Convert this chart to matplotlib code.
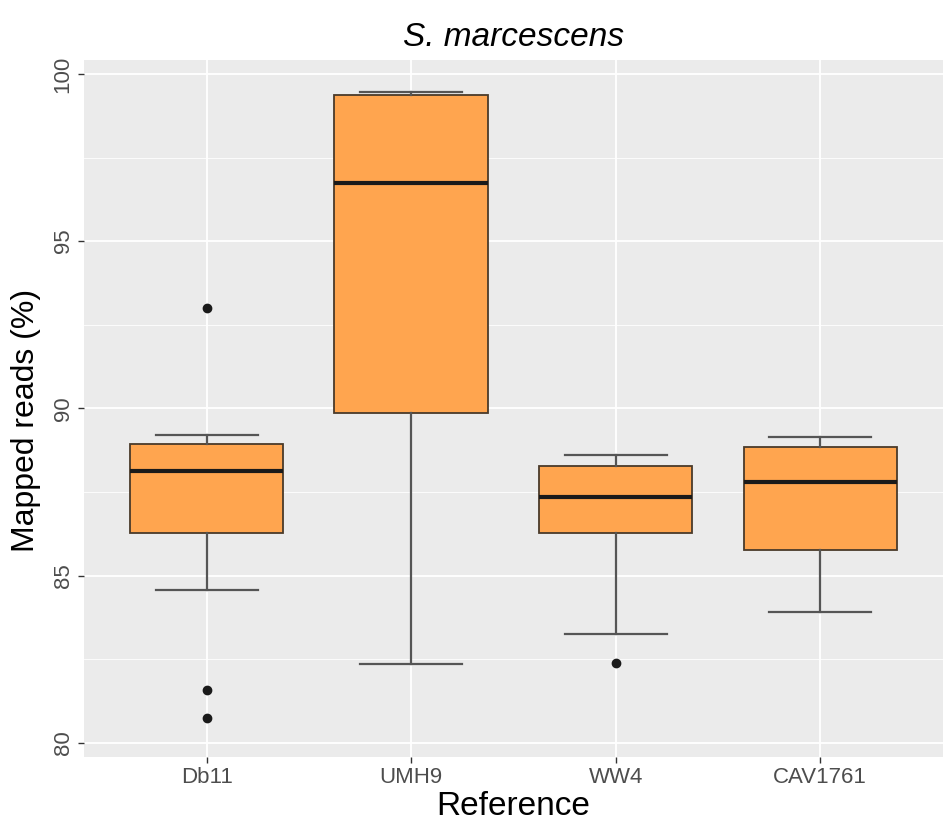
import matplotlib
matplotlib.use("Agg")
import matplotlib.pyplot as plt
import numpy as np

plt.rcParams['font.family'] = ['Liberation Sans', 'DejaVu Sans']

categories = ["Db11", "UMH9", "WW4", "CAV1761"]
whislo = [84.57, 82.36, 83.26, 83.92]
q1 = [86.28, 89.87, 86.28, 85.77]
med = [88.13, 96.74, 87.35, 87.80]
q3 = [88.94, 99.37, 88.28, 88.85]
whishi = [89.21, 99.46, 88.61, 89.15]
fliers = [[93.0, 81.58, 80.75], [], [82.39], []]

title = "S. marcescens"
xlabel = "Reference"
ylabel = "Mapped reads (%)"
yticks = [80, 85, 90, 95, 100]

fig = plt.figure(figsize=(9.43, 8.21), dpi=100)
ax = fig.add_axes([0.089, 0.078, 0.911, 0.849])
ax.set_facecolor("#EBEBEB")

stats = []
for i, c in enumerate(categories):
    stats.append(dict(label=c, whislo=whislo[i], q1=q1[i], med=med[i],
                      q3=q3[i], whishi=whishi[i], fliers=fliers[i]))

pos = np.arange(1, len(categories) + 1)
ax.bxp(stats, positions=pos, widths=0.75, patch_artist=True,
       showfliers=True, capwidths=0.5,
       boxprops=dict(facecolor="#FFA54F", edgecolor="#4a3a2a", linewidth=1.3),
       medianprops=dict(color="#1a1a1a", linewidth=3.0),
       whiskerprops=dict(color="#555555", linewidth=1.6),
       capprops=dict(color="#555555", linewidth=1.6),
       flierprops=dict(marker="o", markerfacecolor="#1a1a1a", markeredgecolor="#1a1a1a",
                       markersize=6, linestyle="none"),
       zorder=3)

# y range with ggplot-like expansion
dmin, dmax = 80.53, 99.47
pad = 0.05 * (dmax - dmin)
ax.set_ylim(dmin - pad, dmax + pad)
ax.set_xlim(0.4, len(categories) + 0.6)

ax.set_yticks(yticks)
ax.set_yticks([82.5, 87.5, 92.5, 97.5], minor=True)
ax.set_xticks(pos)
ax.set_xticklabels(categories)
ax.grid(True, which="major", color="white", linewidth=1.3, zorder=0)
ax.grid(True, which="minor", axis="y", color="white", linewidth=0.6, zorder=0)
ax.set_axisbelow(True)

for s in ax.spines.values():
    s.set_visible(False)

ax.tick_params(axis="both", which="major", color="#333333", length=4, width=1,
               labelcolor="#4D4D4D", labelsize=16)
ax.tick_params(axis="y", which="minor", length=0)
for lbl in ax.get_yticklabels():
    lbl.set_rotation(90)
    lbl.set_va("center")

ax.set_xlabel(xlabel, fontsize=24, color="black", labelpad=2)
ax.set_ylabel(ylabel, fontsize=23, color="black", labelpad=4)
ax.yaxis.set_label_coords(-0.05, 0.483)
ax.set_title(title, fontsize=24, style="italic", pad=10)

fig.savefig("out.png", dpi=100)
